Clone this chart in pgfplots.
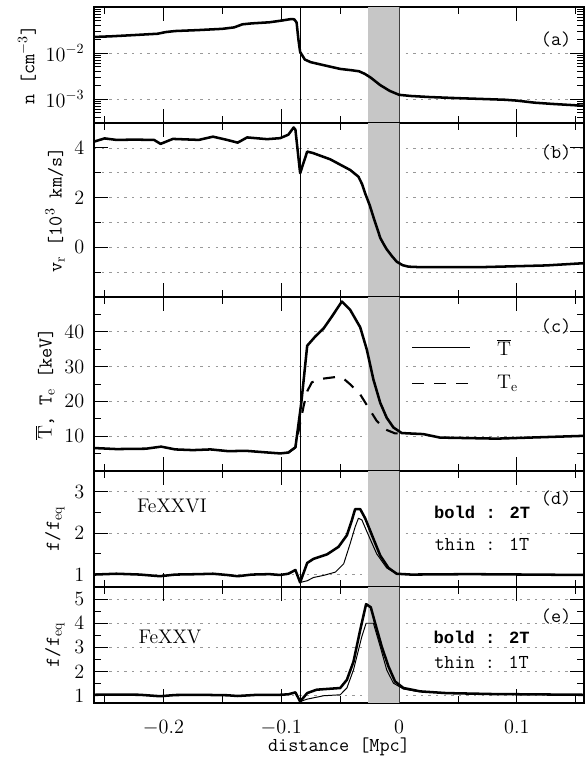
\documentclass[border=0pt]{standalone}
\usepackage{fontspec}
\usepackage{pgfplots}
\pgfplotsset{compat=1.18}
\newfontfamily\boldmono{Liberation Mono}

\newcommand{\fs}{\fontsize{14}{16}\selectfont}
\newcommand{\fb}{\fontsize{12.2}{14}\selectfont\boldmono\bfseries}

\pgfplotsset{
  panel/.style={
    scale only axis,
    width=12.25cm,
    anchor=south west,
    xmin=-0.259, xmax=0.157,
    xtick={-0.2,-0.1,0,0.1},
    minor xtick={-0.25,-0.15,-0.05,0.05,0.15},
    xticklabels={},
    scaled ticks=false,
    tick align=inside,
    major tick length=3.5mm,
    minor tick length=1.75mm,
    every tick/.style={black, line width=0.6pt},
    axis line style={line width=1.1pt},
    ymajorgrids,
    major grid style={gray!80, line width=0.5pt, dash pattern=on 0.6mm off 1.3mm},
    minor grid style={gray!80, line width=0.5pt, dash pattern=on 0.6mm off 1.3mm},
    tick label style={font=\fs},
    yticklabel style={xshift=-1.2mm},
    label style={font=\fs\ttfamily},
  },
  thickline/.style={black, line width=1.8pt, line join=round},
  thinline/.style={black, line width=0.7pt, line join=round},
}

% shaded band and the vertical line, drawn in every panel
\newcommand{\bandandline}{%
  \fill[gray!45] ({axis cs:-0.026,1}|-{rel axis cs:0,0}) rectangle ({axis cs:0,1}|-{rel axis cs:0,1});
  \draw[gray!50!black, line width=0.6pt] ({axis cs:0,1}|-{rel axis cs:0,0}) -- ({axis cs:0,1}|-{rel axis cs:0,1});
  \draw[black, line width=0.6pt] ({axis cs:-0.084,1}|-{rel axis cs:0,0}) -- ({axis cs:-0.084,1}|-{rel axis cs:0,1});
}

\begin{document}
\begin{tikzpicture}
\useasboundingbox (0cm,0cm) rectangle (14.625cm,19cm);

% (a) density
\begin{axis}[panel, at={(2.35cm,15.925cm)}, height=2.9cm,
  ymode=log, ymin=3e-4, ymax=0.1,
  ytick={0.001,0.01,0.1}, yticklabels={$10^{-3}$,$10^{-2}$,},
  minor ytick={4e-4,5e-4,6e-4,7e-4,8e-4,9e-4,2e-3,3e-3,4e-3,5e-3,6e-3,7e-3,8e-3,9e-3,2e-2,3e-2,4e-2,5e-2,6e-2,7e-2,8e-2,9e-2},
  ylabel={n [cm$^{-3}$]}]
\bandandline
\addplot[thickline] table {
-0.259 0.0223
-0.245 0.0230
-0.225 0.0245
-0.205 0.0262
-0.198 0.0285
-0.190 0.0300
-0.170 0.0315
-0.150 0.0335
-0.140 0.0360
-0.133 0.0420
-0.125 0.0440
-0.110 0.0465
-0.100 0.0505
-0.092 0.0545
-0.089 0.0540
-0.087 0.0460
-0.0855 0.0200
-0.084 0.0105
-0.080 0.0072
-0.075 0.0063
-0.065 0.0055
-0.050 0.0045
-0.040 0.0042
-0.034 0.0040
-0.029 0.0035
-0.024 0.0029
-0.016 0.0020
-0.008 0.0015
0.000 0.00123
0.010 0.00116
0.026 0.00110
0.050 0.00104
0.070 0.00100
0.090 0.00096
0.100 0.00092
0.115 0.00083
0.130 0.00078
0.157 0.00071
};
\node[font=\fs\ttfamily] at (rel axis cs:0.943,0.724) {(a)};
\end{axis}

% (b) velocity
\begin{axis}[panel, at={(2.35cm,11.575cm)}, height=4.35cm,
  ymin=-2, ymax=5, ytick={0,2,4}, minor ytick={-1,1,3}, yminorgrids,
  ylabel={v$_\mathrm{r}$ [10$^3$ km/s]}]
\bandandline
\addplot[thickline] table {
-0.259 4.25
-0.250 4.38
-0.240 4.32
-0.225 4.33
-0.208 4.32
-0.2025 4.16
-0.192 4.36
-0.170 4.32
-0.158 4.45
-0.146 4.32
-0.137 4.21
-0.129 4.42
-0.112 4.35
-0.101 4.39
-0.094 4.53
-0.0895 4.82
-0.088 4.73
-0.084 2.98
-0.078 3.85
-0.073 3.79
-0.0585 3.54
-0.0415 3.11
-0.0345 2.84
-0.0315 2.55
-0.0288 2.17
-0.0250 1.70
-0.0218 1.22
-0.0185 0.75
-0.016 0.38
-0.0130 0.12
-0.0105 -0.08
-0.006 -0.36
-0.002 -0.58
0.003 -0.72
0.008 -0.78
0.018 -0.80
0.069 -0.80
0.125 -0.73
0.157 -0.64
};
\node[font=\fs\ttfamily] at (rel axis cs:0.943,0.833) {(b)};
\end{axis}

% (c) temperatures
\begin{axis}[panel, at={(2.35cm,7.225cm)}, height=4.35cm,
  ymin=0, ymax=50, ytick={10,20,30,40}, minor ytick={5,15,25,35,45},
  ylabel={$\overline{\mathrm{T}}$, T$_\mathrm{e}$ [keV]}]
\bandandline
\addplot[thickline] table {
-0.259 6.6
-0.240 6.3
-0.215 6.4
-0.202 7.0
-0.190 6.2
-0.175 6.0
-0.160 6.2
-0.145 5.7
-0.130 5.8
-0.115 5.4
-0.101 5.05
-0.094 5.3
-0.088 6.8
-0.083 19.6
-0.078 36.0
-0.071 38.7
-0.064 41.0
-0.057 44.4
-0.0486 48.7
-0.0415 46.3
-0.033 41.3
-0.0274 34.9
-0.0218 26.3
-0.016 19.6
-0.0105 15.3
-0.0048 12.5
0.0023 10.9
0.0206 10.6
0.0347 9.6
0.083 9.3
0.111 9.6
0.157 10.1
};
\addplot[thickline, line width=1.5pt, dash pattern=on 3mm off 2.5mm] table {
-0.094 5.3
-0.088 6.8
-0.085 12.0
-0.081 18.7
-0.078 22.9
-0.074 25.5
-0.0655 26.5
-0.054 27.0
-0.047 26.5
-0.0415 24.9
-0.033 22.0
-0.026 18.2
-0.019 14.4
-0.012 12.0
-0.0034 10.8
0.0023 10.9
};
% key
\addplot[thinline] coordinates {(0.011,35.4) (0.060,35.4)};
\addplot[thinline, dash pattern=on 3mm off 2.5mm] coordinates {(0.011,25.1) (0.060,25.1)};
\node[font=\fs, anchor=west] at (axis cs:0.079,35.4) {$\overline{\mathrm{T}}$};
\node[font=\fs, anchor=west] at (axis cs:0.079,25.1) {T$_\mathrm{e}$};
\node[font=\fs\ttfamily] at (rel axis cs:0.943,0.833) {(c)};
\end{axis}

% (d) FeXXVI
\begin{axis}[panel, at={(2.35cm,4.325cm)}, height=2.9cm,
  ymin=0.7, ymax=3.5, ytick={1,2,3}, minor ytick={1.5,2.5},
  ylabel={f/f$_\mathrm{eq}$}]
\bandandline
\addplot[thickline] table {
-0.259 1.00
-0.240 1.02
-0.220 1.00
-0.203 0.96
-0.190 1.00
-0.170 1.01
-0.158 1.02
-0.146 0.99
-0.137 0.96
-0.125 1.00
-0.110 1.01
-0.101 0.99
-0.094 1.02
-0.088 1.11
-0.084 0.81
-0.078 1.28
-0.0726 1.38
-0.061 1.49
-0.0514 1.67
-0.0443 1.95
-0.040 2.32
-0.0373 2.58
-0.033 2.58
-0.0288 2.36
-0.023 1.95
-0.016 1.46
-0.009 1.16
-0.002 1.02
0.010 1.00
0.060 1.01
0.110 1.00
0.157 0.99
};
\addplot[thinline] table {
-0.084 0.81
-0.078 0.85
-0.0726 0.93
-0.064 0.98
-0.054 1.06
-0.047 1.26
-0.0415 1.75
-0.0373 2.15
-0.0345 2.36
-0.0316 2.32
-0.026 1.95
-0.019 1.50
-0.0105 1.16
-0.002 1.02
0.005 1.00
};
\node[font=\fs] at (rel axis cs:0.159,0.70) {FeXXVI};
\node[font=\fb] at (rel axis cs:0.792,0.647) {bold : 2T};
\node[font=\fs\ttfamily] at (rel axis cs:0.792,0.371) {thin : 1T};
\node[font=\fs\ttfamily] at (rel axis cs:0.943,0.767) {(d)};
\end{axis}

% (e) FeXXV
\begin{axis}[panel, at={(2.35cm,1.425cm)}, height=2.9cm,
  ymin=0.7, ymax=5.5, ytick={1,2,3,4,5}, minor ytick={1.5,2.5,3.5,4.5},
  ylabel={f/f$_\mathrm{eq}$},
  xticklabels={$-0.2$,$-0.1$,$0$,$0.1$},
  xticklabel style={yshift=-3.2mm},
  xlabel={distance [Mpc]},
  xlabel style={yshift=1.8mm}]
\bandandline
\addplot[thickline] table {
-0.259 1.04
-0.240 1.05
-0.220 1.04
-0.203 0.98
-0.190 1.03
-0.170 1.04
-0.146 1.02
-0.137 0.99
-0.120 1.04
-0.101 1.04
-0.094 1.06
-0.088 1.14
-0.084 0.76
-0.078 1.11
-0.070 1.25
-0.050 1.32
-0.0443 1.66
-0.0387 2.41
-0.033 3.72
-0.028 4.79
-0.024 4.66
-0.0203 4.00
-0.0147 3.03
-0.009 2.21
-0.0034 1.59
0.0037 1.32
0.018 1.18
0.040 1.11
0.080 1.07
0.157 1.04
};
\addplot[thinline] table {
-0.084 0.76
-0.078 0.86
-0.064 1.00
-0.050 1.04
-0.0443 1.32
-0.0387 2.07
-0.0316 3.45
-0.028 4.00
-0.0218 4.00
-0.016 3.03
-0.0105 2.07
-0.0048 1.52
0.0037 1.28
0.015 1.18
};
\node[font=\fs] at (rel axis cs:0.155,0.569) {FeXXV};
\node[font=\fb] at (rel axis cs:0.791,0.569) {bold : 2T};
\node[font=\fs\ttfamily] at (rel axis cs:0.791,0.353) {thin : 1T};
\node[font=\fs\ttfamily] at (rel axis cs:0.943,0.75) {(e)};
\end{axis}
\end{tikzpicture}
\end{document}
